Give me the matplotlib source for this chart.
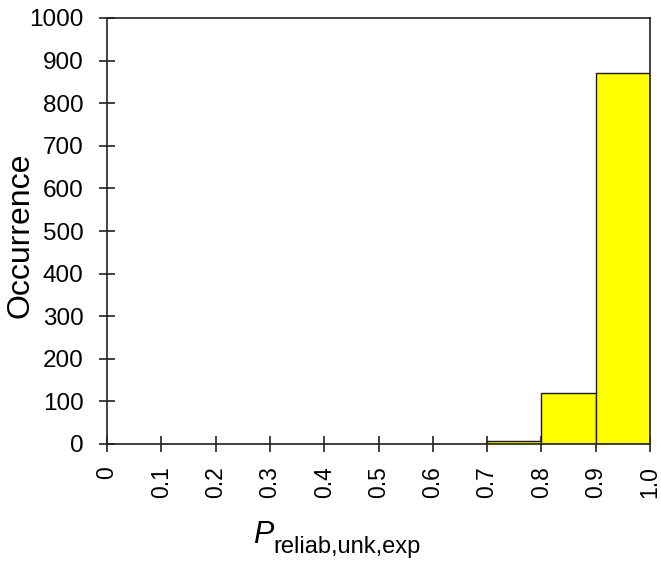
import matplotlib
matplotlib.use("Agg")
import matplotlib.pyplot as plt

# histogram of reliability values (bin edges 0..1, step 0.1)
bin_left = [0.0, 0.1, 0.2, 0.3, 0.4, 0.5, 0.6, 0.7, 0.8, 0.9]
counts = [0, 0, 0, 0, 0, 0, 0, 8, 120, 872]
xticks = [0.0, 0.1, 0.2, 0.3, 0.4, 0.5, 0.6, 0.7, 0.8, 0.9, 1.0]
xticklabels = ["0", "0.1", "0.2", "0.3", "0.4", "0.5", "0.6", "0.7", "0.8", "0.9", "1.0"]
yticks = list(range(0, 1001, 100))

plt.rcParams["font.family"] = ["Liberation Sans", "DejaVu Sans"]

W, H = 661, 563
fig = plt.figure(figsize=(W / 100, H / 100), dpi=100)
ax = fig.add_axes([107 / W, 1 - 444 / H, (650 - 107) / W, (444 - 18) / H])

ax.bar(bin_left, counts, width=0.1, align="edge", facecolor="#ffff00",
       edgecolor="#1a1a1a", linewidth=1.0, zorder=2)

ax.set_xlim(0, 1.0)
ax.set_ylim(0, 1000)
ax.set_xticks(xticks)
ax.set_xticklabels(xticklabels, rotation=90, va="top", ha="center")
ax.set_yticks(yticks)
ax.tick_params(axis="both", direction="inout", length=12, width=1.2,
               colors="#222222", labelcolor="black")
ax.tick_params(axis="x", pad=10, labelsize=16.5)
ax.tick_params(axis="y", pad=11, labelsize=17.5)
for s in ax.spines.values():
    s.set_linewidth(1.2)
    s.set_color("#222222")
    s.set_zorder(3)

# axis titles
fig.text(21 / W, 1 - 235 / H, "Occurrence", rotation=90, ha="center",
         va="center", fontsize=23)
fig.text(253 / W, 1 - 543 / H, "P", fontsize=22, fontstyle="italic",
         ha="left", va="baseline")
fig.text(273 / W, 1 - 553 / H, "reliab,unk,exp", fontsize=17,
         ha="left", va="baseline")

fig.savefig("out.png", dpi=100, facecolor="white")
